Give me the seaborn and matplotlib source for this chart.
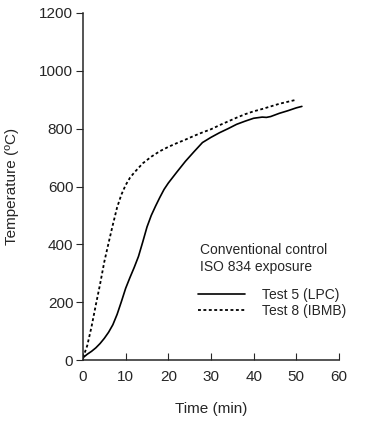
import pandas as pd
import matplotlib
matplotlib.use("Agg")
import matplotlib.pyplot as plt
import seaborn as sns

# Test 5 (LPC) - solid curve
TEST5_TIME = [0, 1, 2, 3, 4, 5, 6, 7, 8, 9, 10, 11, 12, 13, 14, 15, 16, 17, 18, 19,
              20, 22, 24, 26, 28, 30, 32, 34, 36, 38, 40, 42, 43, 44, 46, 48, 50, 51.3]
TEST5_TEMP = [8, 20, 30, 42, 57, 75, 96, 122, 158, 202, 248, 285, 320, 358, 408,
              460, 500, 532, 562, 590, 612, 650, 687, 720, 752, 770, 786, 800, 815,
              826, 836, 840, 839, 842, 853, 862, 872, 877]

# Test 8 (IBMB) - dotted curve
TEST8_TIME = [0, 1, 2, 3, 4, 5, 6, 7, 8, 9, 10, 11, 12, 14, 16, 18, 20, 22, 24,
              26, 28, 30, 32, 34, 36, 38, 40, 42, 44, 46, 48, 50]
TEST8_TEMP = [8, 50, 115, 190, 262, 340, 405, 468, 528, 572, 605, 630, 648, 680,
              703, 722, 737, 750, 762, 775, 787, 798, 812, 825, 838, 850, 860, 868,
              877, 886, 893, 900]

X_TICKS = [0, 10, 20, 30, 40, 50, 60]
Y_TICKS = [0, 200, 400, 600, 800, 1000, 1200]

test5 = pd.DataFrame({"time": TEST5_TIME, "temp": TEST5_TEMP})
test8 = pd.DataFrame({"time": TEST8_TIME, "temp": TEST8_TEMP})

sns.set_style("ticks")
plt.rcParams["font.family"] = ["Liberation Sans", "DejaVu Sans"]

fig = plt.figure(figsize=(3.70, 4.26), dpi=100)
ax = fig.add_axes([0.2243, 0.1549, 0.6919, 0.8146])

sns.lineplot(data=test5, x="time", y="temp", ax=ax, color="black",
             linewidth=1.2, label="Test 5 (LPC)")
sns.lineplot(data=test8, x="time", y="temp", ax=ax, color="black",
             linewidth=1.3, linestyle=(0, (1.6, 1.4)), label="Test 8 (IBMB)")

ax.set_xlim(0, 60)
ax.set_ylim(0, 1200)
ax.set_xticks(X_TICKS)
ax.set_yticks(Y_TICKS)
ax.tick_params(axis="x", direction="in", length=5, labelsize=11, pad=7)
ax.tick_params(axis="y", direction="out", length=5, labelsize=11, pad=2)
ax.set_xlabel("Time (min)", fontsize=11)
ax.set_ylabel("Temperature (ºC)", fontsize=11)
ax.xaxis.set_label_coords(0.5, -0.122)
ax.yaxis.set_label_coords(-0.25, 0.5)
sns.despine(ax=ax)
for spine in ax.spines.values():
    spine.set_linewidth(1.1)

ax.text(0.457, 0.337, "Conventional control\nISO 834 exposure",
        transform=ax.transAxes, ha="left", va="top", fontsize=10,
        linespacing=1.3)

leg = ax.legend(loc="upper left", bbox_to_anchor=(0.449, 0.207),
                frameon=False, fontsize=10, borderpad=0, borderaxespad=0,
                handlelength=3.4, handletextpad=1.2, labelspacing=0.15)

fig.savefig("out.png", dpi=100)
